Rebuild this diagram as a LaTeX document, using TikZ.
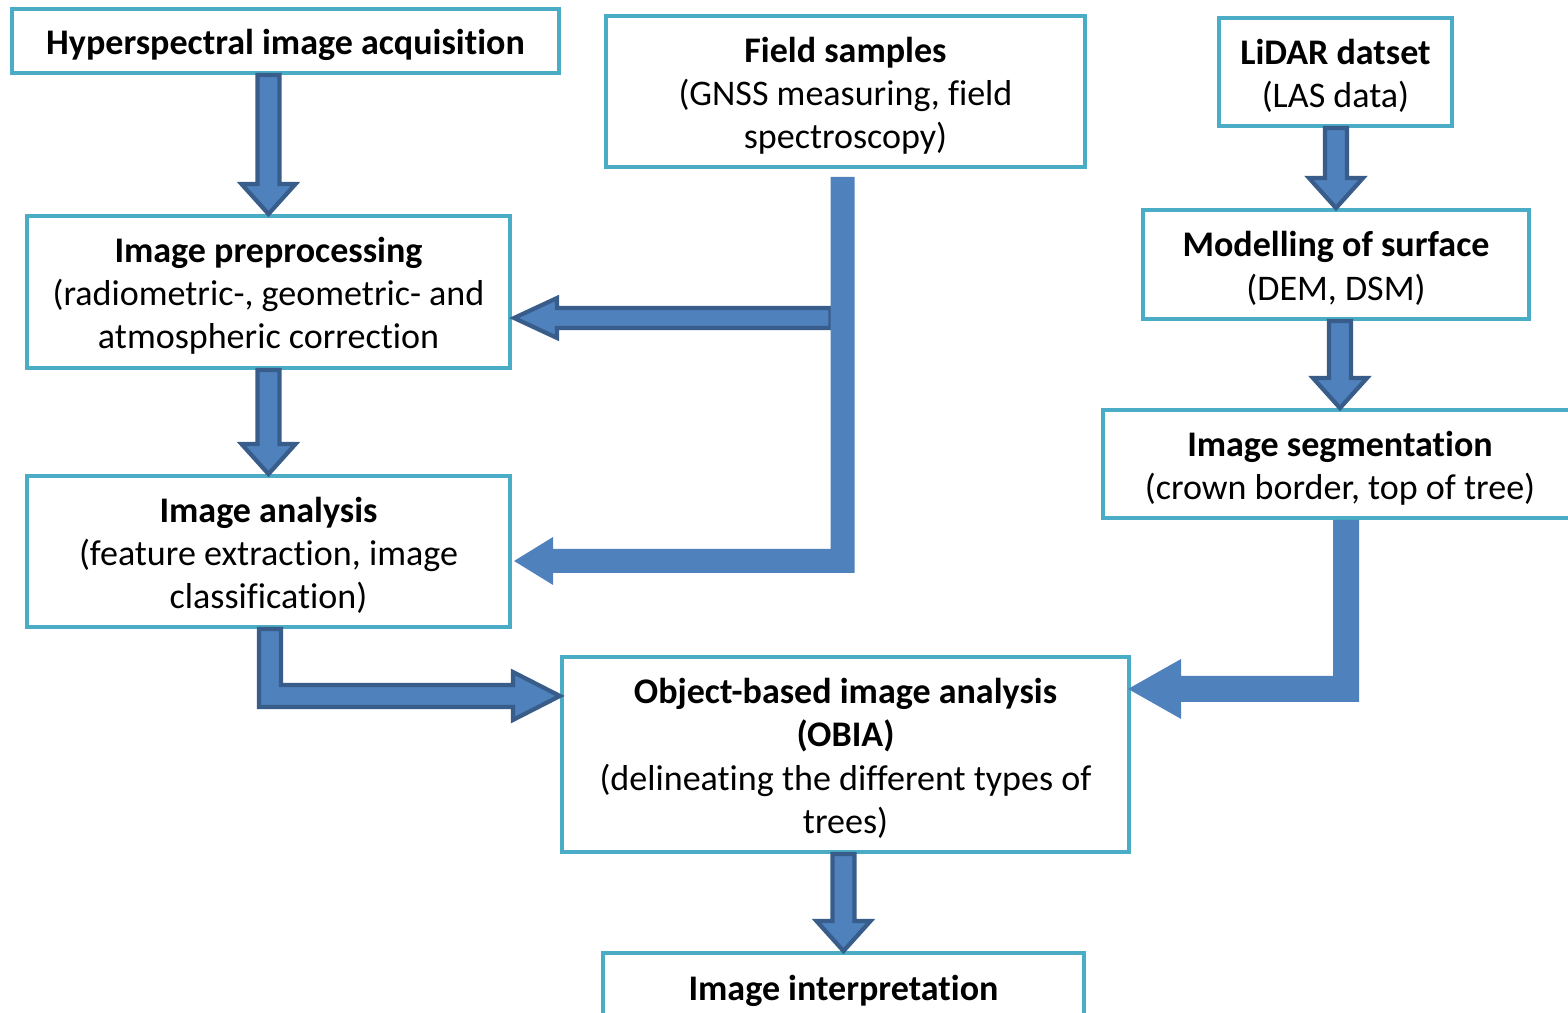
\documentclass[tikz,border=0pt]{standalone}
\usepackage{fontspec}
\setmainfont{Carlito}[Ligatures=NoCommon]
\usepackage{tikz}
\usetikzlibrary{calc,positioning}
\definecolor{boxaqua}{RGB}{75,172,198}
\definecolor{arrowblue}{RGB}{79,129,189}
\definecolor{arrowdark}{RGB}{56,93,138}
\tikzstyle{procbox} = [draw=boxaqua, line width=1.1pt, fill=white, align=center, inner sep=0pt,
    font=\fontsize{10.25}{12.25}\selectfont]
\tikzstyle{blockarrow} = [fill=arrowblue, draw=arrowdark, line width=1.2pt, line join=miter]
\tikzstyle{blockflat} = [fill=arrowblue]
% bold first line of a box (a little taller, so the text sits lower)
\newcommand{\boxhead}[1]{\rule{0pt}{9.4pt}\textbf{#1}}
% straight block arrow going down from #1 to #2
\newcommand{\blockdown}[2]{%
  \draw[blockarrow] ($(#2.north |- #1.south)+(-11,0)$) -- ($(#2.north)+(-11,-30)$)
    -- ($(#2.north)+(-27,-30)$) -- (#2.north) -- ($(#2.north)+(27,-30)$)
    -- ($(#2.north)+(11,-30)$) -- ($(#2.north |- #1.south)+(11,0)$) -- cycle;}

\begin{document}
\begin{tikzpicture}[x=0.01cm, y=-0.01cm]
    \useasboundingbox (0,0) rectangle (1568,1013);

    % Boxes
    \node[procbox, minimum width=5.47cm, minimum height=0.64cm] (acq) at (285.5,41)
        {\boxhead{Hyperspectral image acquisition}};
    \node[procbox, minimum width=4.79cm, minimum height=1.51cm] (fld) at (845.5,91.5)
        {\boxhead{Field samples}\\(GNSS measuring, field\\spectroscopy)};
    \node[procbox, minimum width=2.33cm, minimum height=1.08cm] (lid) at (1335.5,72)
        {\boxhead{LiDAR datset}\\(LAS data)};
    \node[procbox, minimum width=4.83cm, minimum height=1.52cm] (pre) at (268.5,292)
        {\boxhead{Image preprocessing}\\(radiometric-, geometric- and\\atmospheric correction};
    \node[procbox, minimum width=3.86cm, minimum height=1.09cm] (mod) at (1336,264.5)
        {\boxhead{Modelling of surface}\\(DEM, DSM)};
    \node[procbox, minimum width=4.74cm, minimum height=1.08cm] (seg) at (1340,464)
        {\boxhead{Image segmentation}\\(crown border, top of tree)};
    \node[procbox, minimum width=4.83cm, minimum height=1.51cm] (ana) at (268.5,551.5)
        {\boxhead{Image analysis}\\(feature extraction, image\\classification)};
    \node[procbox, minimum width=5.67cm, minimum height=1.95cm] (obia) at (845.5,754.5)
        {\boxhead{Object-based image analysis}\\\textbf{(OBIA)}\\(delineating the different types of\\trees)};
    \node[procbox, minimum width=4.81cm, minimum height=0.68cm] (int) at (843.5,987)
        {\boxhead{Image interpretation}};

    % Down arrows
    \blockdown{acq}{pre}
    \blockdown{pre}{ana}
    \blockdown{lid}{mod}
    \blockdown{mod}{seg}
    \blockdown{obia}{int}

    % Field samples feeding both boxes on the left
    \coordinate (fbar) at ($(fld.south)+(-3,8)$);
    \coordinate (fjoin) at ($(fbar |- ana.east)+(0,9.5)$);
    \coordinate (fbr) at ($(fbar |- pre.east)+(-12,26)$);
    \draw[blockarrow] ($(fbr)+(0,-10)$) -- ($(pre.east |- fbr)+(45,-10)$)
        -- ($(pre.east |- fbr)+(45,-20)$) -- ($(pre.east |- fbr)+(2,0)$)
        -- ($(pre.east |- fbr)+(45,20)$) -- ($(pre.east |- fbr)+(45,10)$)
        -- ($(fbr)+(0,10)$) -- cycle;
    \fill[blockflat] ($(fbar)+(12,0)$) -- ($(fjoin)+(12,12)$)
        -- ($(ana.east |- fjoin)+(41,12)$) -- ($(ana.east |- fjoin)+(41,24)$)
        -- ($(ana.east |- fjoin)+(2,0)$) -- ($(ana.east |- fjoin)+(41,-24)$)
        -- ($(ana.east |- fjoin)+(41,-12)$) -- ($(fjoin)+(-12,-12)$)
        -- ($(fbar)+(-12,0)$) -- cycle;

    % Image analysis to OBIA
    \coordinate (abend) at ($(ana.south)+(1.5,67)$);
    \draw[blockarrow] ($(ana.south -| abend)+(-11,0)$) -- ($(abend)+(-11,11)$)
        -- ($(obia.west |- abend)+(-47,11)$) -- ($(obia.west |- abend)+(-47,24)$)
        -- (obia.west |- abend) -- ($(obia.west |- abend)+(-47,-24)$)
        -- ($(obia.west |- abend)+(-47,-11)$) -- ($(abend)+(11,-11)$)
        -- ($(ana.south -| abend)+(11,0)$) -- cycle;

    % Segmentation to OBIA
    \coordinate (sbend) at ($(seg.south)+(6,169)$);
    \fill[blockflat] ($(seg.south -| sbend)+(13,0)$) -- ($(sbend)+(13,13)$)
        -- ($(obia.east |- sbend)+(50,13)$) -- ($(obia.east |- sbend)+(50,30)$)
        -- ($(obia.east |- sbend)+(-3,0)$) -- ($(obia.east |- sbend)+(50,-30)$)
        -- ($(obia.east |- sbend)+(50,-13)$) -- ($(sbend)+(-13,-13)$)
        -- ($(seg.south -| sbend)+(-13,0)$) -- cycle;
\end{tikzpicture}
\end{document}
